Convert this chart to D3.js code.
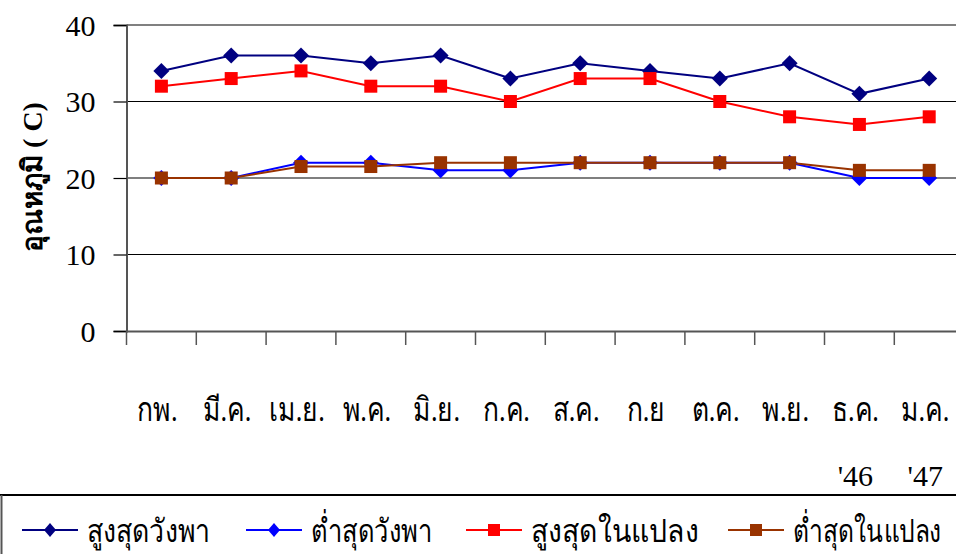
<!DOCTYPE html>
<html>
<head>
<meta charset="utf-8">
<script src="https://cdn.jsdelivr.net/npm/d3@7"></script>
<style>
  html, body { margin: 0; padding: 0; background: #fff; }
  svg { display: block; font-family: "Liberation Serif", "Noto Sans", serif; }
</style>
</head>
<body>
<svg id="chart" width="956" height="554"></svg>
<script>
const months = ['กพ.', 'มี.ค.', 'เม.ย.', 'พ.ค.', 'มิ.ย.', 'ก.ค.', 'ส.ค.', 'ก.ย', 'ต.ค.', 'พ.ย.', 'ธ.ค.', 'ม.ค.'];
const yearMarks = { 'ธ.ค.': "'46", 'ม.ค.': "'47" };
const yTicks = [0, 10, 20, 30, 40];

const maxWangpha = [34, 36, 36, 35, 36, 33, 35, 34, 33, 35, 31, 33];
const minWangpha = [20, 20, 22, 22, 21, 21, 22, 22, 22, 22, 20, 20];
const maxPlot = [32, 33, 34, 32, 32, 30, 33, 33, 30, 28, 27, 28];
const minPlot = [20, 20, 21.5, 21.5, 22, 22, 22, 22, 22, 22, 21, 21];

const series = [
  { name: 'สูงสุดวังพา', values: maxWangpha, color: '#000080', shape: 'diamond' },
  { name: 'ต่ำสุดวังพา', values: minWangpha, color: '#0000ff', shape: 'diamond' },
  { name: 'สูงสุดในแปลง', values: maxPlot, color: '#ff0000', shape: 'square' },
  { name: 'ต่ำสุดในแปลง', values: minPlot, color: '#993300', shape: 'square' }
];

const svg = d3.select('#chart');
const plotLeft = 126.5, plotTop = 25, plotBottom = 331;
const plotRight = plotLeft + 12 * 69.8;

const x = d3.scaleBand().domain(months).range([plotLeft, plotRight]);
const y = d3.scaleLinear().domain([0, 40]).range([plotBottom, plotTop]);

// gridlines
svg.append('g')
  .selectAll('line')
  .data(yTicks.filter(d => d > 0))
  .enter()
  .append('line')
  .attr('x1', plotLeft).attr('x2', 956)
  .attr('y1', d => y(d)).attr('y2', d => y(d))
  .attr('stroke', d => d === 40 ? '#808080' : '#000')
  .attr('stroke-width', d => d === 40 ? 2 : 1.2);

// y axis
const yAxis = svg.append('g')
  .attr('transform', `translate(${plotLeft},0)`)
  .call(d3.axisLeft(y).tickValues(yTicks).tickSize(13).tickPadding(18));
yAxis.select('.domain').attr('stroke', '#555').attr('stroke-width', 2);
yAxis.selectAll('.tick line').attr('stroke', '#000').attr('stroke-width', 1.2);
yAxis.selectAll('.tick text')
  .attr('font-size', 30).attr('fill', '#000')
  .attr('font-family', 'Liberation Serif, serif')
  .attr('dy', '0.34em');

// x axis
const xAxis = svg.append('g')
  .attr('transform', `translate(0,${plotBottom})`)
  .call(d3.axisBottom(x).tickSize(0).tickFormat(''));
xAxis.select('.domain').attr('stroke', '#555').attr('stroke-width', 2);

svg.append('g')
  .selectAll('line')
  .data(d3.range(months.length + 1))
  .enter()
  .append('line')
  .attr('x1', i => plotLeft + i * x.step()).attr('x2', i => plotLeft + i * x.step())
  .attr('y1', plotBottom).attr('y2', plotBottom + 14)
  .attr('stroke', '#555').attr('stroke-width', 1.5);

// the source Thai font is narrow and tall, so squeeze ours sideways
svg.append('g')
  .selectAll('text')
  .data(months)
  .enter()
  .append('text')
  .attr('transform', d => `translate(${x(d) + x.bandwidth() / 2 - 4},421) scale(0.8,1)`)
  .attr('text-anchor', 'middle')
  .attr('font-size', 33)
  .text(d => d);

svg.append('g')
  .selectAll('text')
  .data(months.filter(m => yearMarks[m]))
  .enter()
  .append('text')
  .attr('x', d => x(d) + x.bandwidth() / 2 - 4)
  .attr('y', 486)
  .attr('text-anchor', 'middle')
  .attr('font-size', 30)
  .text(d => yearMarks[d]);

// y title
svg.append('text')
  .attr('transform', 'translate(42,177) rotate(-90)')
  .attr('text-anchor', 'middle')
  .attr('font-size', 28)
  .attr('font-weight', 'bold')
  .text('อุณหภูมิ ( C)');

// lines
const cx = (d, i) => x(months[i]) + x.bandwidth() / 2;
const line = d3.line().x((d, i) => cx(d, i)).y(d => y(d));

function marker(g, shape, color, px, py) {
  if (shape === 'diamond') {
    g.append('path')
      .attr('d', `M${px},${py - 8}L${px + 8},${py}L${px},${py + 8}L${px - 8},${py}Z`)
      .attr('fill', color);
  } else {
    g.append('rect')
      .attr('x', px - 6.5).attr('y', py - 6.5)
      .attr('width', 13).attr('height', 13)
      .attr('fill', color);
  }
}

series.forEach(s => {
  const g = svg.append('g');
  g.append('path')
    .datum(s.values)
    .attr('d', line)
    .attr('fill', 'none')
    .attr('stroke', s.color)
    .attr('stroke-width', 2);
  s.values.forEach((v, i) => marker(g, s.shape, s.color, cx(v, i), y(v)));
});

// legend
const legend = svg.append('g');
legend.append('line')
  .attr('x1', 0).attr('x2', 956).attr('y1', 495).attr('y2', 495)
  .attr('stroke', '#000').attr('stroke-width', 2);
legend.append('line')
  .attr('x1', 1.5).attr('x2', 1.5).attr('y1', 495).attr('y2', 554)
  .attr('stroke', '#555').attr('stroke-width', 2);

const legendX = [22, 246, 466, 728];
const legendTextW = [125, 122, 170, 150];
series.forEach((s, i) => {
  const g = legend.append('g').attr('transform', `translate(${legendX[i]},530)`);
  g.append('line')
    .attr('x1', 0).attr('x2', 56).attr('y1', 0).attr('y2', 0)
    .attr('stroke', s.color).attr('stroke-width', 2);
  if (s.shape === 'diamond') {
    g.append('path').attr('d', 'M28,-7L34,0L28,7L22,0Z').attr('fill', s.color);
  } else {
    g.append('rect').attr('x', 22).attr('y', -6).attr('width', 12).attr('height', 12).attr('fill', s.color);
  }
  const t = g.append('text')
    .attr('font-size', 32)
    .text(s.name);
  const k = legendTextW[i] / t.node().getComputedTextLength();
  t.attr('transform', `translate(65,12) scale(${k},1)`);
});
</script>
</body>
</html>
